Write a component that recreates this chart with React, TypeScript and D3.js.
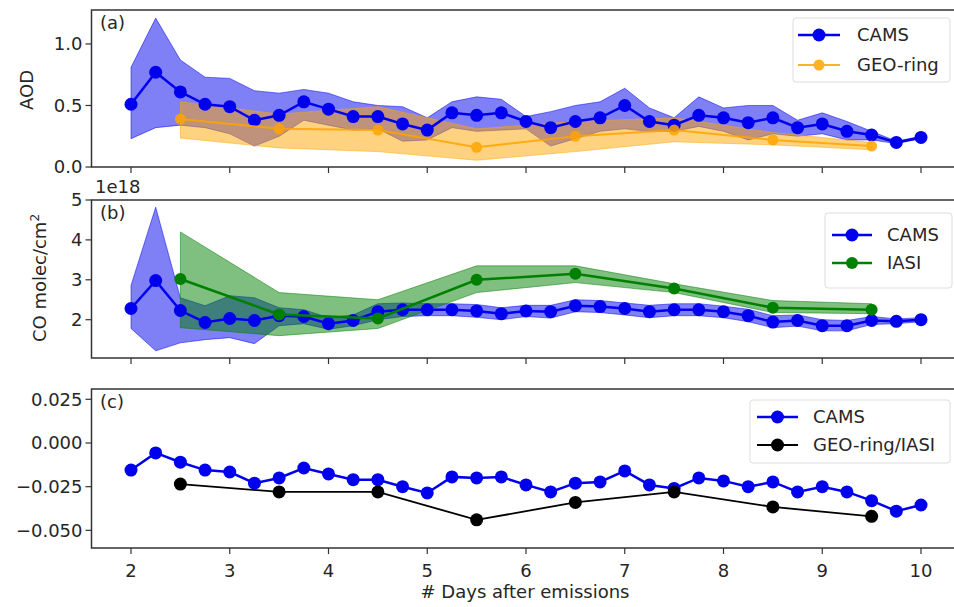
import React from "react";
import * as d3 from "d3";

// ---- data ----
const days = [2, 2.25, 2.5, 2.75, 3, 3.25, 3.5, 3.75, 4, 4.25, 4.5, 4.75, 5, 5.25, 5.5, 5.75, 6, 6.25, 6.5, 6.75, 7, 7.25, 7.5, 7.75, 8, 8.25, 8.5, 8.75, 9, 9.25, 9.5, 9.75, 10];
const obsDays = [2.5, 3.5, 4.5, 5.5, 6.5, 7.5, 8.5, 9.5];

const camsAod = [0.51, 0.77, 0.61, 0.51, 0.49, 0.38, 0.42, 0.53, 0.47, 0.41, 0.41, 0.35, 0.30, 0.44, 0.42, 0.44, 0.37, 0.32, 0.37, 0.40, 0.50, 0.37, 0.34, 0.42, 0.40, 0.36, 0.40, 0.32, 0.35, 0.29, 0.26, 0.20, 0.24];
const camsAodHi = [0.81, 1.21, 0.87, 0.73, 0.72, 0.62, 0.60, 0.63, 0.60, 0.53, 0.50, 0.49, 0.40, 0.53, 0.57, 0.55, 0.41, 0.45, 0.50, 0.53, 0.64, 0.48, 0.40, 0.57, 0.48, 0.50, 0.50, 0.38, 0.44, 0.37, 0.29, 0.21, 0.25];
const camsAodLo = [0.23, 0.32, 0.34, 0.32, 0.27, 0.17, 0.25, 0.38, 0.34, 0.30, 0.31, 0.21, 0.22, 0.32, 0.29, 0.30, 0.31, 0.17, 0.23, 0.29, 0.31, 0.29, 0.29, 0.33, 0.29, 0.22, 0.27, 0.25, 0.27, 0.22, 0.22, 0.19, 0.23];

const geoAod = [0.39, 0.31, 0.30, 0.16, 0.25, 0.30, 0.22, 0.17];
const geoAodHi = [0.53, 0.43, 0.49, 0.31, 0.37, 0.40, 0.28, 0.20];
const geoAodLo = [0.235, 0.155, 0.125, 0.055, 0.125, 0.205, 0.18, 0.14];

const camsCo = [2.28, 2.98, 2.23, 1.93, 2.03, 1.98, 2.10, 2.08, 1.90, 1.98, 2.20, 2.25, 2.25, 2.25, 2.22, 2.15, 2.22, 2.20, 2.35, 2.33, 2.28, 2.20, 2.25, 2.25, 2.20, 2.10, 1.94, 1.98, 1.85, 1.85, 1.98, 1.96, 2.00];
const camsCoHi = [2.86, 4.82, 2.55, 2.35, 2.60, 2.55, 2.30, 2.25, 2.05, 2.12, 2.40, 2.42, 2.40, 2.40, 2.38, 2.30, 2.36, 2.36, 2.50, 2.48, 2.42, 2.36, 2.40, 2.40, 2.34, 2.26, 2.10, 2.12, 2.00, 1.98, 2.08, 2.02, 2.05];
const camsCoLo = [1.78, 1.22, 1.42, 1.50, 1.55, 1.40, 1.85, 1.90, 1.76, 1.85, 2.00, 2.08, 2.10, 2.10, 2.06, 2.00, 2.08, 2.04, 2.20, 2.18, 2.12, 2.05, 2.10, 2.10, 2.05, 1.95, 1.80, 1.84, 1.72, 1.72, 1.88, 1.90, 1.95];

const iasiCo = [3.02, 2.13, 2.03, 3.0, 3.15, 2.78, 2.3, 2.25];
const iasiCoHi = [4.2, 2.68, 2.5, 3.35, 3.35, 2.9, 2.48, 2.4];
const iasiCoLo = [1.8, 1.6, 1.78, 2.68, 2.93, 2.68, 2.18, 2.15];

const camsRatio = [-0.0155, -0.0057, -0.011, -0.0155, -0.0166, -0.023, -0.020, -0.0143, -0.0177, -0.021, -0.021, -0.025, -0.0286, -0.0194, -0.020, -0.0194, -0.024, -0.028, -0.023, -0.0223, -0.016, -0.024, -0.026, -0.020, -0.0217, -0.025, -0.0223, -0.028, -0.025, -0.028, -0.033, -0.039, -0.0355];
const geoIasiRatio = [-0.0235, -0.028, -0.028, -0.044, -0.034, -0.028, -0.0366, -0.042];

const xTicks = [2, 3, 4, 5, 6, 7, 8, 9, 10];
const aTicks = [0, 0.5, 1.0];
const bTicks = [2, 3, 4, 5];
const cTicks = [-0.05, -0.025, 0, 0.025];

const FONT = "DejaVu Sans, sans-serif";
const FS = 18;
const TXT = "#262626";

type Band = { x: number[]; y: number[]; hi?: number[]; lo?: number[]; color: string; r: number; lw: number; op?: number };

function Panel(props: {
  top: number; bottom: number; domain: [number, number]; ticks: number[]; fmt: (v: number) => string;
  series: Band[]; label: string; showX: boolean;
  legend: { x0: number; x1: number; y0: number; y1: number; lx0: number; lx1: number; tx: number; items: { name: string; color: string; r: number; lw: number; y: number; op?: number }[] };
}) {
  const { top, bottom, domain, ticks, fmt, series, label, showX, legend } = props;
  const x = d3.scaleLinear().domain([1.6, 10.4]).range([91.5, 960.5]);
  const y = d3.scaleLinear().domain(domain).range([bottom, top]);
  const left = 91.5, right = 960.5;
  return (
    <g>
      {series.map((s, i) => {
        if (!s.hi || !s.lo) return null;
        const idx = d3.range(s.x.length);
        const area = d3.area<number>().x((k) => x(s.x[k])).y0((k) => y(s.lo![k])).y1((k) => y(s.hi![k]));
        return <path key={"b" + i} d={area(idx) || ""} fill={s.color} fillOpacity={0.5} stroke={s.color} strokeOpacity={0.5} strokeWidth={1} />;
      })}
      {series.map((s, i) => {
        const idx = d3.range(s.x.length);
        const line = d3.line<number>().x((k) => x(s.x[k])).y((k) => y(s.y[k]));
        return (
          <g key={"l" + i} opacity={s.op ?? 1}>
            <path d={line(idx) || ""} fill="none" stroke={s.color} strokeWidth={s.lw} />
            {idx.map((k) => <circle key={k} cx={x(s.x[k])} cy={y(s.y[k])} r={s.r} fill={s.color} />)}
          </g>
        );
      })}
      <rect x={left} y={top} width={right - left} height={bottom - top} fill="none" stroke="#333" strokeWidth={1.5} />
      {ticks.map((t) => (
        <g key={t}>
          <line x1={left - 6} x2={left} y1={y(t)} y2={y(t)} stroke="#333" strokeWidth={1.2} />
          <text x={left - 9} y={y(t)} dy="0.35em" textAnchor="end" fontFamily={FONT} fontSize={FS} fill={TXT}>{fmt(t)}</text>
        </g>
      ))}
      {xTicks.map((t) => (
        <g key={"x" + t}>
          <line x1={x(t)} x2={x(t)} y1={bottom} y2={bottom + 6} stroke="#333" strokeWidth={1.2} />
          {showX && <text x={x(t)} y={bottom + 29} textAnchor="middle" fontFamily={FONT} fontSize={FS} fill={TXT}>{t}</text>}
        </g>
      ))}
      <text x={100} y={top + 19} fontFamily={FONT} fontSize={FS} fill={TXT}>{label}</text>
      <rect x={legend.x0} y={legend.y0} width={legend.x1 - legend.x0} height={legend.y1 - legend.y0} rx={3} fill="white" fillOpacity={0.8} stroke="#dddddd" strokeWidth={1} />
      {legend.items.map((it) => (
        <g key={it.name}>
          <g opacity={it.op ?? 1}>
            <line x1={legend.lx0} x2={legend.lx1} y1={it.y} y2={it.y} stroke={it.color} strokeWidth={it.lw} />
            <circle cx={(legend.lx0 + legend.lx1) / 2} cy={it.y} r={it.r} fill={it.color} />
          </g>
          <text x={legend.tx} y={it.y} dy="0.35em" fontFamily={FONT} fontSize={FS} fill={TXT}>{it.name}</text>
        </g>
      ))}
    </g>
  );
}

export default function App() {
  const minus = (s: string) => s.replace("-", "\u2212");
  return (
    <svg width={954} height={607} style={{ position: "absolute", left: 0, top: 0, background: "white" }}>
      <rect width={954} height={607} fill="white" />
      <Panel
        top={10} bottom={167} domain={[0, 1.276]} ticks={aTicks} fmt={(v) => d3.format(".1f")(v)} label="(a)" showX={false}
        series={[
          { x: days, y: camsAod, hi: camsAodHi, lo: camsAodLo, color: "#0000ee", r: 6.5, lw: 2.5 },
          { x: obsDays, y: geoAod, hi: geoAodHi, lo: geoAodLo, color: "#ffa500", r: 5.5, lw: 2, op: 0.85 },
        ]}
        legend={{ x0: 793, x1: 950, y0: 18, y1: 82, lx0: 798, lx1: 840, tx: 857, items: [
          { name: "CAMS", color: "#0000ee", r: 6.5, lw: 2.5, y: 35 },
          { name: "GEO-ring", color: "#ffa500", r: 5.5, lw: 2, y: 65, op: 0.85 },
        ] }}
      />
      <Panel
        top={200} bottom={358} domain={[1.04, 5]} ticks={bTicks} fmt={(v) => String(v)} label="(b)" showX={false}
        series={[
          { x: days, y: camsCo, hi: camsCoHi, lo: camsCoLo, color: "#0000ee", r: 6.5, lw: 2.5 },
          { x: obsDays, y: iasiCo, hi: iasiCoHi, lo: iasiCoLo, color: "#008000", r: 6, lw: 2.5 },
        ]}
        legend={{ x0: 825, x1: 952, y0: 213, y1: 288, lx0: 832, lx1: 872, tx: 887, items: [
          { name: "CAMS", color: "#0000ee", r: 6.5, lw: 2.5, y: 235 },
          { name: "IASI", color: "#008000", r: 6, lw: 2.5, y: 263 },
        ] }}
      />
      <Panel
        top={389} bottom={548} domain={[-0.0601, 0.0309]} ticks={cTicks} fmt={(v) => minus(d3.format(".3f")(v))} label="(c)" showX={true}
        series={[
          { x: days, y: camsRatio, color: "#0000ee", r: 6.5, lw: 2.5 },
          { x: obsDays, y: geoIasiRatio, color: "#000000", r: 6.5, lw: 1.8 },
        ]}
        legend={{ x0: 750, x1: 950, y0: 400, y1: 463, lx0: 757, lx1: 798, tx: 813, items: [
          { name: "CAMS", color: "#0000ee", r: 6.5, lw: 2.5, y: 417 },
          { name: "GEO-ring/IASI", color: "#000000", r: 6.5, lw: 1.8, y: 445 },
        ] }}
      />
      <text x={95} y={193} fontFamily={FONT} fontSize={FS} fill={TXT}>1e18</text>
      <text transform="translate(33,90) rotate(-90)" textAnchor="middle" fontFamily={FONT} fontSize={FS} fill={TXT}>AOD</text>
      <text transform="translate(46,278) rotate(-90)" textAnchor="middle" fontFamily={FONT} fontSize={FS} fill={TXT}>
        CO molec/cm<tspan dy={-7} fontSize={12}>2</tspan>
      </text>
      <text x={525} y={598} textAnchor="middle" fontFamily={FONT} fontSize={FS} fill={TXT}># Days after emissions</text>
    </svg>
  );
}
